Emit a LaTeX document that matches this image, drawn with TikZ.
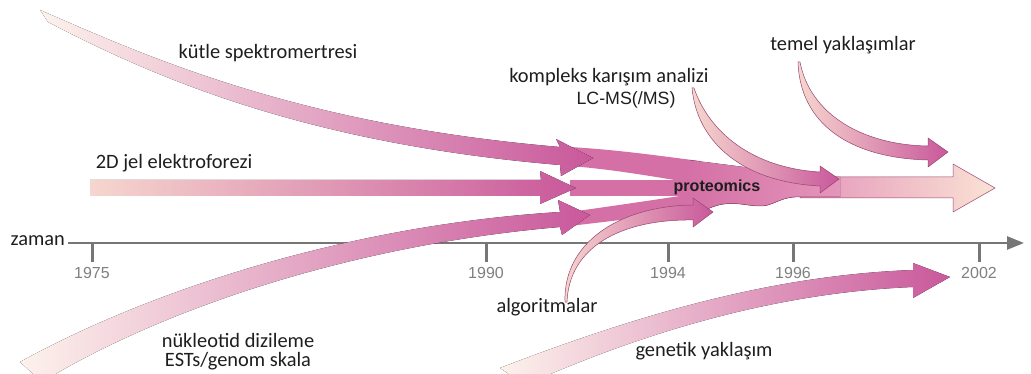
\documentclass[tikz,border=0pt]{standalone}
\usepackage{fontspec}
\newfontfamily\carl{Carlito}
\newfontfamily\arl{Liberation Sans}
\usetikzlibrary{arrows.meta}
\definecolor{pkd}{RGB}{201,88,155}
\definecolor{pkc}{RGB}{212,112,166}
\definecolor{pkm}{RGB}{228,150,186}
\definecolor{pkl}{RGB}{246,214,206}
\definecolor{fade}{RGB}{253,242,236}
\definecolor{peach}{RGB}{250,226,212}
\definecolor{edgec}{RGB}{150,70,110}
\definecolor{axc}{RGB}{118,118,118}
\definecolor{yrc}{RGB}{128,128,128}
\definecolor{txc}{RGB}{30,30,30}
\tikzset{
  lbl/.style={font=\carl\fontsize{20.4}{22}\selectfont, text=txc, inner sep=0pt},
  yr/.style={font=\arl\fontsize{16}{18}\selectfont, text=yrc, inner sep=0pt},
  outl/.style={draw=edgec, line width=0.5pt},
  tick/.style={draw=axc, line width=3pt},
}
\begin{document}
\begin{tikzpicture}[x=1pt,y=-1pt]
\useasboundingbox (0,0) rectangle (1031,374);
\fill[white] (0,0) rectangle (1031,374);
\clip (0,0) rectangle (1031,374);

% time axis
\coordinate (ax0) at (68,243);
\coordinate (ax1) at (1024,243);
\draw[axc, line width=2.5pt, -{Triangle[length=17pt,width=13pt]}] (ax0) -- (ax1);
\node[lbl, anchor=east] (zaman) at (65,241) {zaman};
\foreach \yy/\xx in {1975/92,1990/486,1994/668,1996/793,2002/979}{
  \coordinate (t\yy) at (\xx,243);
  \draw[tick] (t\yy) -- ++(0,19);
  \node[yr] (y\yy) at (\xx,273) {\yy};
}

% continuation bands
\fill[pkc] (570,147) .. controls (620,150) and (660,156) .. (700,161) -- (700,184) .. controls (660,178) and (620,170) .. (570,166) -- cycle;
\fill[pkc] (570,180) -- (700,180) -- (700,196) -- (570,196) -- cycle;
\fill[pkc] (570,212) .. controls (620,205) and (660,199) .. (700,193) -- (700,213) .. controls (660,215) and (620,220) .. (570,226) -- cycle;

% final arrow
\path[outl, left color=pkm, right color=peach] (800,177) -- (953,177) -- (953,164) -- (995,188) -- (953,212) -- (953,198) -- (800,198) -- cycle;

% proteomics blob
\fill[left color=pkc, right color=pkm] (688,160) .. controls (740,166) and (790,174) .. (840,177) -- (840,197) -- (795,197) .. controls (778,198) and (772,207) .. (758,206) .. controls (740,205) and (725,198) .. (700,213) -- (688,213) -- cycle;
\draw[outl] (840,197) -- (795,197) .. controls (778,198) and (772,207) .. (758,206) .. controls (740,205) and (725,198) .. (700,213);

% kütle spektrometresi
\fill[left color=fade, right color=pkd] (40,10) .. controls (150,58) and (300,125) .. (560,147) -- (556,139) -- (593,158) -- (561,176) -- (560,165) .. controls (300,143) and (150,75) .. (48,22) -- cycle;
% 2D jel
\fill[left color=pkl, right color=pkd] (90,180) -- (541,180) -- (540,171) -- (576,188) -- (540,204) -- (540,196) -- (90,196) -- cycle;
% nükleotid
\fill[left color=fade, right color=pkd] (20,362) .. controls (150,290) and (350,225) .. (560,212) -- (558,200) -- (590,215) -- (562,235) -- (560,227) .. controls (350,245) and (160,310) .. (42,382) -- cycle;

% LC-MS arrow
\path[outl, left color=pkl, middle color=pkm, right color=pkd] (692,88) .. controls (697,142) and (742,182) .. (820,186) -- (820,193) -- (839,179) -- (820,166) -- (820,172) .. controls (752,168) and (709,132) .. (694,88) -- cycle;
% temel
\path[outl, left color=pkl, middle color=pkm, right color=pkd] (798,62) .. controls (800,124) and (850,158) .. (928,160) -- (928,167) -- (948,152) -- (928,138) -- (928,146) .. controls (862,145) and (810,114) .. (800,62) -- cycle;
% algoritmalar
\path[outl, left color=pkl, middle color=pkm, right color=pkd] (565,302) .. controls (563,243) and (619,206) .. (693,205) -- (693,198) -- (713,212) -- (693,227) -- (693,220) .. controls (621,219) and (569,247) .. (567,302) -- cycle;
% genetik
\fill[left color=fade, right color=pkd] (500,368) .. controls (650,310) and (780,275) .. (913,270) -- (913,263) -- (950,277) -- (913,298) -- (913,287) .. controls (790,292) and (660,325) .. (525,385) -- cycle;

% labels
\node[lbl] (kutle) at (268,53) {kütle spektromertresi};
\node[lbl] (jel) at (174,163) {2D jel elektroforezi};
\node[lbl] (komp) at (609,77) {kompleks karışım analizi};
\node[font=\arl\fontsize{17.8}{20}\selectfont, text=txc, inner sep=0pt] (lcms) at (626,100) {LC-MS(/MS)};
\node[lbl] (temel) at (843,45) {temel yaklaşımlar};
\node[lbl] (algo) at (547,307) {algoritmalar};
\node[lbl] (nuk) at (238,340) {nükleotid dizileme};
\node[lbl] (est) at (238,361) {ESTs/genom skala};
\node[lbl] (gen) at (704,351) {genetik yaklaşım};
\node[font=\arl\bfseries\fontsize{16.1}{18}\selectfont, text=txc, inner sep=0pt] (prot) at (717,187) {proteomics};
\end{tikzpicture}
\end{document}
